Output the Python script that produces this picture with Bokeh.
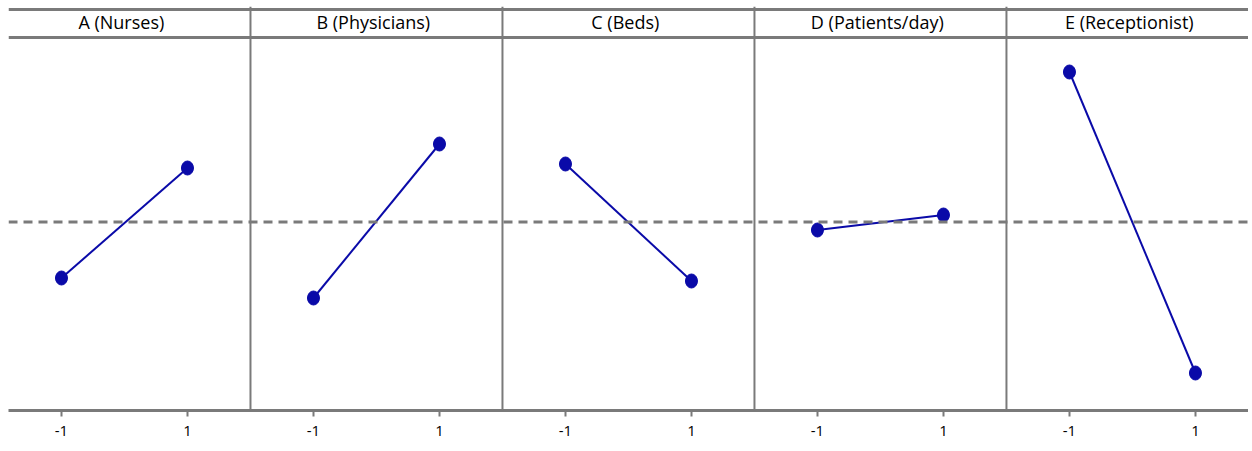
from bokeh.plotting import figure
from bokeh.models import Range1d, Span, FixedTicker, ColumnDataSource
from bokeh.core.properties import value
from bokeh.embed import file_html
from bokeh.resources import INLINE

# ---- data ----
factors = ["A (Nurses)", "B (Physicians)", "C (Beds)", "D (Patients/day)", "E (Receptionist)"]
levels = [-1, 1]
level_labels = ["-1", "1"]
low_means = [44.4, 42.4, 55.8, 49.2, 65.0]
high_means = [55.4, 57.8, 44.1, 50.7, 34.9]
grand_mean = 50.0

PANEL = 4.0
GRAY = "#7a7a7a"
BLUE = "#0a0aa8"
FONT = "Open Sans"

y_lo, y_hi = 31.15, 71.55
header_line_y = 68.45
header_text_y = 70.05
top_line_y = 71.25

p = figure(frame_width=1240, frame_height=404,
           x_range=Range1d(0.159, 19.842), y_range=Range1d(y_lo, y_hi),
           output_backend="svg", toolbar_location=None,
           min_border_left=8, min_border_right=0, min_border_top=6, min_border_bottom=4,
           y_axis_location=None)
p.outline_line_color = None
p.xgrid.visible = False
p.ygrid.visible = False
p.background_fill_color = "white"
p.border_fill_color = "white"

# header lines
p.add_layout(Span(location=top_line_y, dimension="width", line_color=GRAY, line_width=3))
p.add_layout(Span(location=header_line_y, dimension="width", line_color=GRAY, line_width=3))
# panel dividers
for i in range(1, len(factors)):
    p.add_layout(Span(location=PANEL * i, dimension="height", line_color=GRAY, line_width=2))
# grand mean
p.add_layout(Span(location=grand_mean, dimension="width", line_color=GRAY, line_width=3,
                  line_dash="9 6"))

ticks = []
overrides = {}
for i, (f, lo, hi) in enumerate(zip(factors, low_means, high_means)):
    c = PANEL * i + PANEL / 2
    xs = [c + lv for lv in levels]
    ys = [lo, hi]
    src = ColumnDataSource(dict(x=xs, y=ys))
    p.line("x", "y", source=src, line_color=BLUE, line_width=2)
    p.ellipse("x", "y", source=src, width=12, height=14, width_units="screen",
              height_units="screen", fill_color=BLUE, line_color=BLUE)
    for x, lab in zip(xs, level_labels):
        ticks.append(x)
        overrides[x] = lab

hsrc = ColumnDataSource(dict(x=[PANEL * i + PANEL / 2 - 0.05 for i in range(len(factors))],
                             y=[header_text_y] * len(factors), t=factors))
p.text("x", "y", text="t", source=hsrc, text_align="center", text_baseline="middle",
       text_font=value(FONT), text_font_size="18px", text_color="black")

ax = p.xaxis[0]
ax.ticker = FixedTicker(ticks=ticks)
ax.major_label_overrides = overrides
ax.axis_line_color = GRAY
ax.axis_line_width = 3
ax.major_tick_line_color = GRAY
ax.major_tick_line_width = 2
ax.major_tick_out = 6
ax.major_tick_in = 0
ax.minor_tick_line_color = None
ax.major_label_text_font = FONT
ax.major_label_text_font_size = "15px"
ax.major_label_text_color = "black"
ax.major_label_standoff = 9

open("out.html", "w").write(file_html(p, INLINE))
